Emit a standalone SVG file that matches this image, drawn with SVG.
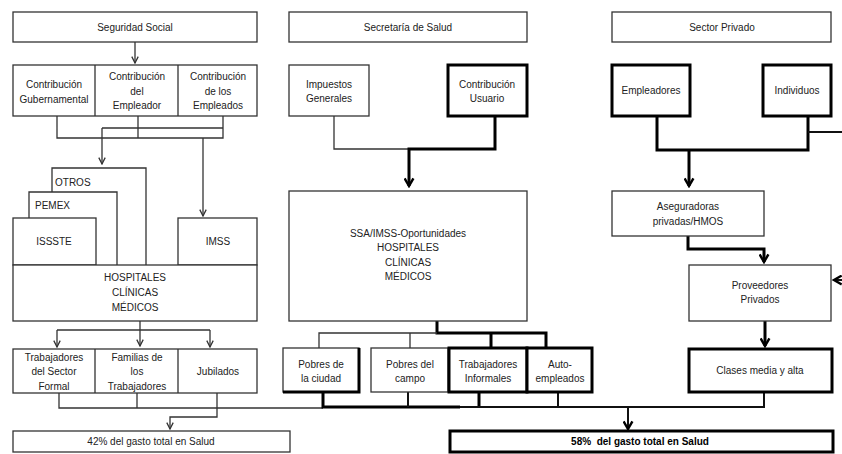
<svg xmlns="http://www.w3.org/2000/svg" width="842" height="454" viewBox="0 0 842 454">
<style>
  text { font-family: "Liberation Sans", Arial, sans-serif; font-size: 10px; fill: #222; text-anchor: middle; }
  .l { text-anchor: start; }
  .b { font-weight: bold; fill: #000; }
  .box { fill: #fff; stroke: #333; stroke-width: 1.3; }
  .tbox { fill: #fff; stroke: #000; stroke-width: 3; }
  .thin { fill: none; stroke: #333; stroke-width: 1.3; }
  .med { fill: none; stroke: #111; stroke-width: 2; }
  .thick { fill: none; stroke: #000; stroke-width: 3; }
</style>
<defs>
  <marker id="at" viewBox="0 0 10 10" refX="9" refY="5" markerWidth="8" markerHeight="8" markerUnits="userSpaceOnUse" orient="auto">
    <path d="M1,1 L9,5 L1,9" fill="none" stroke="#333" stroke-width="1.6"/>
  </marker>
  <marker id="ak" viewBox="0 0 10 10" refX="8.5" refY="5" markerWidth="11" markerHeight="11" markerUnits="userSpaceOnUse" orient="auto">
    <path d="M1.5,1 L8.5,5 L1.5,9" fill="none" stroke="#000" stroke-width="2.2"/>
  </marker>
</defs>

<g id="connectors">
  <!-- Seguridad Social -->
  <path class="thin" d="M135,42 V63" marker-end="url(#at)"/>
  <path class="thin" d="M57,116 V138 H223 V116 M138,116 V138 M102,128 H223"/>
  <path class="thin" d="M102,128 V164" marker-end="url(#at)"/>
  <path class="thin" d="M203,138 V216" marker-end="url(#at)"/>
  <path class="thin" d="M140,321 V346" marker-end="url(#at)"/>
  <path class="thin" d="M57,330 H210"/>
  <path class="thin" d="M57,330 V347" marker-end="url(#at)"/>
  <path class="thin" d="M210,330 V347" marker-end="url(#at)"/>
  <path class="thin" d="M59,393 V408 H323 M137,393 V408"/>
  <path class="thin" d="M217,393 V417 H170 V429" marker-end="url(#at)"/>
  <!-- Secretaria de Salud -->
  <path class="thin" d="M334,116 V149 H409"/>
  <path class="thick" d="M495,116 V149 H409 V186" marker-end="url(#ak)"/>
  <path class="thick" d="M437,321 V333 H546 V348 M491,333 V348"/>
  <path class="thin" d="M319,348 V333 H437 M410,333 V348"/>
  <path class="thick" d="M323,392 V407 H460 M479,392 V407"/>
  <path class="med" d="M460,407 H764 V392 M408,392 V407 M558,392 V407"/>
  <path class="med" d="M628,407 V429" marker-end="url(#ak)"/>
  <!-- Sector Privado -->
  <path class="thick" d="M657,116 V150 H808 V116"/>
  <path class="med" d="M808,132 H842"/>
  <path class="thick" d="M689,150 V186" marker-end="url(#ak)"/>
  <path class="thick" d="M688,236 V249 H764 V262" marker-end="url(#ak)"/>
  <path class="med" d="M842,280 H834" marker-end="url(#ak)"/>
  <path class="thick" d="M765,321 V346" marker-end="url(#ak)"/>
</g>

<g id="seguridad-social">
  <rect class="box" x="13" y="12" width="244" height="30"/>
  <text x="135" y="30.5">Seguridad Social</text>
</g>
<g id="contribuciones-ss">
  <rect class="box" x="13" y="65" width="244" height="51"/>
  <path class="thin" d="M95,65 V116 M178,65 V116"/>
  <text x="54" y="87.5">Contribución</text>
  <text x="54" y="102.5">Gubernamental</text>
  <text x="137" y="80">Contribución</text>
  <text x="137" y="94.5">del</text>
  <text x="137" y="109">Empleador</text>
  <text x="218" y="80">Contribución</text>
  <text x="218" y="94.5">de los</text>
  <text x="218" y="109">Empleados</text>
</g>
<g id="otros">
  <path class="thin" d="M52,192 V168 H146 V265"/>
  <text class="l" x="55" y="185.5">OTROS</text>
</g>
<g id="pemex">
  <path class="thin" d="M29,218 V192 H117 V265"/>
  <text class="l" x="35" y="208.5">PEMEX</text>
</g>
<g id="issste">
  <rect class="box" x="13" y="218" width="83" height="47"/>
  <text x="54" y="245">ISSSTE</text>
</g>
<g id="imss">
  <rect class="box" x="178" y="218" width="79" height="47"/>
  <text x="218" y="245">IMSS</text>
</g>
<g id="hospitales-ss">
  <rect class="box" x="13" y="265" width="244" height="56"/>
  <text x="135" y="280.5">HOSPITALES</text>
  <text x="135" y="295.5">CLÍNICAS</text>
  <text x="135" y="310.5">MÉDICOS</text>
</g>
<g id="beneficiarios-ss">
  <rect class="box" x="13" y="349" width="244" height="44"/>
  <path class="thin" d="M95,349 V393 M178,349 V393"/>
  <text x="54" y="360.5">Trabajadores</text>
  <text x="54" y="375">del Sector</text>
  <text x="54" y="389.5">Formal</text>
  <text x="137" y="360.5">Familias de</text>
  <text x="137" y="375">los</text>
  <text x="137" y="389.5">Trabajadores</text>
  <text x="218" y="375">Jubilados</text>
</g>
<g id="gasto-42">
  <rect class="box" x="13" y="431" width="277" height="21"/>
  <text x="151" y="445">42% del gasto total en Salud</text>
</g>

<g id="secretaria-salud">
  <rect class="box" x="289" y="12" width="238" height="30"/>
  <text x="408" y="30.5">Secretaría de Salud</text>
</g>
<g id="impuestos">
  <rect class="box" x="289" y="65" width="80" height="51"/>
  <text x="329" y="87.5">Impuestos</text>
  <text x="329" y="102">Generales</text>
</g>
<g id="contribucion-usuario">
  <rect class="tbox" x="448" y="65" width="79" height="51"/>
  <text x="487" y="87.5">Contribución</text>
  <text x="487" y="102">Usuario</text>
</g>
<g id="ssa-hospitales">
  <rect class="box" x="289" y="191" width="238" height="130"/>
  <text x="408" y="236.5">SSA/IMSS-Oportunidades</text>
  <text x="408" y="251">HOSPITALES</text>
  <text x="408" y="265.5">CLÍNICAS</text>
  <text x="408" y="280">MÉDICOS</text>
</g>
<g id="pobres-ciudad">
  <rect class="box" x="283" y="348" width="76" height="44"/>
  <path class="thick" d="M359,348 V392 H283"/>
  <text x="321" y="367.5">Pobres de</text>
  <text x="321" y="381.5">la ciudad</text>
</g>
<g id="pobres-campo">
  <rect class="box" x="371" y="348" width="77" height="44"/>
  <text x="410" y="367.5">Pobres del</text>
  <text x="410" y="381.5">campo</text>
</g>
<g id="trabajadores-informales">
  <rect class="tbox" x="449" y="348" width="78" height="44"/>
  <text x="488" y="367.5">Trabajadores</text>
  <text x="488" y="381.5">Informales</text>
</g>
<g id="autoempleados">
  <rect class="tbox" x="527" y="348" width="65" height="44"/>
  <text x="560" y="367.5">Auto-</text>
  <text x="560" y="381.5">empleados</text>
</g>
<g id="gasto-58">
  <rect class="tbox" x="450" y="431" width="383" height="21"/>
  <text class="b" x="640" y="445">58%&#160; del gasto total en Salud</text>
</g>

<g id="sector-privado">
  <rect class="box" x="612" y="12" width="219" height="30"/>
  <text x="722" y="30.5">Sector Privado</text>
</g>
<g id="empleadores">
  <rect class="tbox" x="612" y="65" width="78" height="51"/>
  <text x="651" y="93.5">Empleadores</text>
</g>
<g id="individuos">
  <rect class="tbox" x="763" y="65" width="68" height="51"/>
  <text x="797" y="93.5">Individuos</text>
</g>
<g id="aseguradoras">
  <rect class="box" x="612" y="191" width="152" height="45"/>
  <text x="688" y="209.5">Aseguradoras</text>
  <text x="688" y="225">privadas/HMOS</text>
</g>
<g id="proveedores">
  <rect class="box" x="689" y="265" width="142" height="56"/>
  <text x="760" y="288.5">Proveedores</text>
  <text x="760" y="302.5">Privados</text>
</g>
<g id="clases-media-alta">
  <rect class="tbox" x="689" y="349" width="143" height="43"/>
  <text x="760" y="374">Clases media y alta</text>
</g>
</svg>
